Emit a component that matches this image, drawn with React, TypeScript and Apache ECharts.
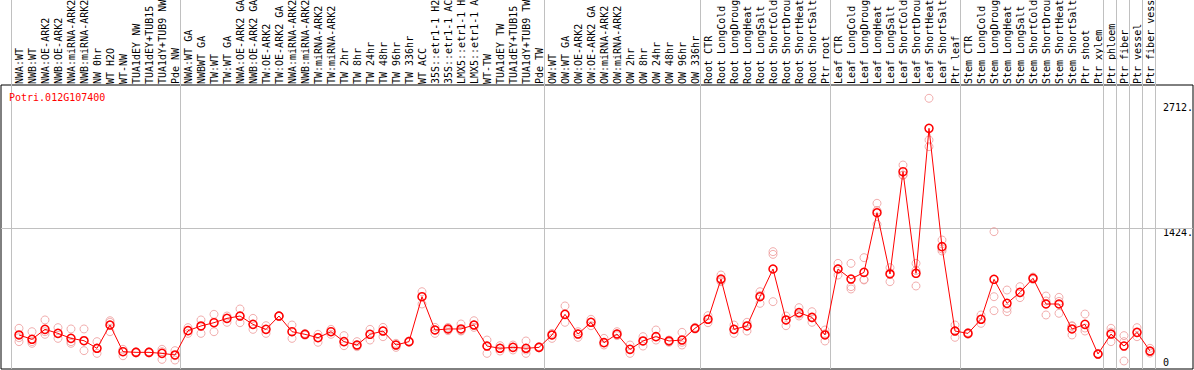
import React, { useEffect, useRef } from "react";
import * as echarts from "echarts";

// ---------------- data ----------------
const chartTitle = "Potri.012G107400";

const categories = [
  "NWA:WT", "NWB:WT", "NWA:OE-ARK2", "NWB:OE-ARK2", "NWA:miRNA-ARK2", "NWB:miRNA-ARK2",
  "NW 0hr", "WT H2O", "WT-NW", "TUA1dEY NW", "TUA1dEY+TUB15", "TUA1dY+TUB9 NW", "Pde NW",
  "NWA:WT GA", "NWBWT GA", "TW:WT", "TW:WT GA", "NWA:OE-ARK2 GA", "NWB:OE-ARK2 GA",
  "TW:OE-ARK2", "TW:OE-ARK2 GA", "NWA:miRNA-ARK2", "NWB:miRNA-ARK2", "TW:miRNA-ARK2",
  "TW:miRNA-ARK2 GA", "TW 2hr", "TW 8hr", "TW 24hr", "TW 48hr", "TW 96hr", "TW 336hr",
  "WT ACC", "35S::etr1-1 H2O", "35S::etr1-1 ACC", "LMX5::etr1-1 H2O", "LMX5::etr1-1 ACC",
  "WT-TW", "TUA1dEY TW", "TUA1dEY+TUB15", "TUA1dY+TUB9 TW", "Pde TW",
  "OW:WT", "OW:WT GA", "OW:OE-ARK2", "OW:OE-ARK2 GA", "OW:miRNA-ARK2", "OW:miRNA-ARK2 GA",
  "OW 2hr", "OW 8hr", "OW 24hr", "OW 48hr", "OW 96hr", "OW 336hr",
  "Root CTR", "Root LongCold", "Root LongDrought", "Root LongHeat", "Root LongSalt",
  "Root ShortCold", "Root ShortDrought", "Root ShortHeat", "Root ShortSalt", "Ptr root",
  "Leaf CTR", "Leaf LongCold", "Leaf LongDrought", "Leaf LongHeat", "Leaf LongSalt",
  "Leaf ShortCold", "Leaf ShortDrought", "Leaf ShortHeat", "Leaf ShortSalt", "Ptr leaf",
  "Stem CTR", "Stem LongCold", "Stem LongDrought", "Stem LongHeat", "Stem LongSalt",
  "Stem ShortCold", "Stem ShortDrought", "Stem ShortHeat", "Stem ShortSalt", "Ptr shoot",
  "Ptr xylem", "Ptr phloem", "Ptr fiber", "Ptr vessel", "Ptr fiber vessel",
];

const meanValues = [
  288, 242, 348, 305, 252, 227, 146, 394, 110, 103, 103, 92, 75,
  334, 384, 419, 465, 490, 401, 348, 490, 323, 295, 259, 323, 217, 181, 295, 330, 181, 217,
  696, 341, 352, 352, 394, 170, 146, 156, 146, 156,
  288, 508, 298, 423, 206, 298, 135, 224, 270, 224, 234, 359,
  455, 884, 348, 384, 696, 991, 448, 526, 476, 288,
  991, 884, 955, 1591, 938, 2028, 945, 2490, 1229, 330,
  305, 455, 881, 625, 742, 892, 618, 618, 352, 401,
  85, 298, 170, 316, 117,
];

const replicate1 = [
  359, 323, 448, 366, 352, 352, 217, 440, 135, 110, 110, 135, 121,
  366, 448, 508, 490, 565, 465, 387, 495, 394, 305, 295, 348, 281, 217, 348, 369, 199, 224,
  749, 369, 369, 405, 440, 234, 174, 181, 224, 165,
  305, 597, 323, 455, 252, 323, 181, 270, 341, 234, 316, 370,
  494, 927, 394, 423, 749, 1176, 490, 579, 536, 341,
  1051, 1051, 1112, 1691, 1005, 2099, 1051, 2810, 1300, 394,
  315, 501, 1389, 767, 803, 905, 703, 689, 387, 511,
  92, 359, 281, 366, 146,
];

const replicate2 = [
  259, 199, 295, 252, 199, 121, 92, 323, 67, 96, 96, 28, 21,
  305, 305, 323, 423, 419, 348, 305, 485, 252, 285, 210, 295, 174, 163, 234, 270, 156, 210,
  618, 305, 334, 334, 369, 92, 117, 128, 92, 150,
  252, 423, 263, 387, 181, 281, 92, 170, 234, 210, 181, 350,
  419, 856, 305, 330, 625, 1147, 387, 490, 423, 224,
  927, 803, 874, 1467, 856, 1993, 810, 2366, 1183, 263,
  295, 412, 696, 536, 686, 880, 501, 519, 288, 330,
  80, 217, 11, 270, 110,
];

const replicate3 = [
  217, 217, 323, 305, 217, 227, 146, 423, 110, 103, 103, 110, 67,
  334, 377, 419, 465, 490, 401, 348, 490, 323, 295, 259, 323, 217, 181, 295, 330, 181, 217,
  696, 341, 352, 330, 394, 170, 146, 156, 128, 156,
  288, 508, 298, 423, 206, 298, 135, 224, 270, 224, 210, 359,
  455, 870, 348, 384, 710, 643, 448, 510, 470, 300,
  995, 778, 880, 1615, 950, 1990, 975, 2295, 1205, 333,
  305, 452, 547, 572, 737, 892, 650, 646, 381, 362,
  85, 318, 217, 312, 95,
];

// index of the first category of each group (a separator precedes each)
const groupStarts = [0, 13, 41, 53, 63, 73, 84, 85, 86, 87, 88];

const yTickValues = [2712, 1424, 0];
const yTickLabels = ["2712.", "1424.", "0"];
const referenceLineValue = 1424;

// ---------------- layout ----------------
const W = 1194;
const H = 370;
const GRID_LEFT = 1;
const GRID_WIDTH = 1192;
const GRID_TOP = 85;
const GRID_HEIGHT = 284;
const STEP = 13;
const FIRST_X = 19;
const X_MIN = -(FIRST_X - GRID_LEFT) / STEP;
const X_MAX = X_MIN + GRID_WIDTH / STEP;
const ZERO_Y = 362;
const PX_PER_UNIT = 0.093842;
const Y_MAX = (ZERO_Y - GRID_TOP) / PX_PER_UNIT;
const Y_MIN = Y_MAX - GRID_HEIGHT / PX_PER_UNIT;
const SEP_OFFSET = -8 / STEP;
const LABEL_MAX_CHARS = 14;
const Y_LABEL_X = 1163;
const MONO = "'DejaVu Sans Mono', 'Liberation Mono', monospace";

const toPoints = (arr: number[]) => arr.map((v, i) => [i, v]);

export default function App() {
  const ref = useRef<HTMLDivElement>(null);

  useEffect(() => {
    if (!ref.current) return;
    const chart = echarts.init(ref.current, null, { renderer: "svg" });

    const repStyle = {
      color: "rgba(0,0,0,0)",
      borderColor: "#ee9a9a",
      borderWidth: 1,
    };

    chart.setOption({
      animation: false,
      backgroundColor: "#ffffff",
      title: {
        text: chartTitle,
        left: 9,
        top: 92,
        padding: 0,
        textStyle: { color: "#ff0000", fontFamily: MONO, fontSize: 10, fontWeight: "normal" },
      },
      grid: [
        {
          left: GRID_LEFT,
          top: GRID_TOP,
          width: GRID_WIDTH,
          height: GRID_HEIGHT,
          show: true,
          borderColor: "#000000",
          borderWidth: 1,
          backgroundColor: "rgba(0,0,0,0)",
        },
        {
          left: FIRST_X - STEP / 2,
          top: GRID_TOP,
          width: categories.length * STEP,
          height: 1,
          show: false,
        },
      ],
      xAxis: [
        { type: "value", gridIndex: 0, min: X_MIN, max: X_MAX, show: false },
        {
          type: "category",
          gridIndex: 1,
          position: "top",
          data: categories,
          boundaryGap: true,
          axisLine: { show: false },
          axisTick: { show: false },
          splitLine: { show: false },
          axisLabel: {
            interval: 0,
            rotate: 90,
            margin: 2,
            color: "#000000",
            fontFamily: MONO,
            fontSize: 10,
            formatter: (s: string) => s.slice(0, LABEL_MAX_CHARS),
          },
        },
      ],
      yAxis: [
        { type: "value", gridIndex: 0, min: Y_MIN, max: Y_MAX, show: false },
        { type: "value", gridIndex: 1, show: false },
      ],
      series: [
        {
          type: "custom",
          name: "separators",
          xAxisIndex: 0,
          yAxisIndex: 0,
          clip: false,
          silent: true,
          z: 1,
          data: groupStarts.map((s) => [s + SEP_OFFSET, 0]),
          renderItem: (_params: any, api: any) => {
            const x = Math.round(api.coord([api.value(0), 0])[0]) + 0.5;
            return {
              type: "line",
              shape: { x1: x, y1: 0, x2: x, y2: GRID_TOP + GRID_HEIGHT },
              style: { stroke: "#c0c0c0", lineWidth: 1 },
            };
          },
        },
        ...[replicate1, replicate2, replicate3].map((r, k) => ({
          type: "scatter",
          name: "rep" + (k + 1),
          xAxisIndex: 0,
          yAxisIndex: 0,
          data: toPoints(r),
          symbol: "circle",
          symbolSize: 8,
          itemStyle: repStyle,
          silent: true,
          z: 2,
        })),
        {
          type: "line",
          name: "mean",
          xAxisIndex: 0,
          yAxisIndex: 0,
          data: toPoints(meanValues),
          symbol: "circle",
          symbolSize: 8,
          showSymbol: true,
          showAllSymbol: true,
          lineStyle: { color: "#ff0000", width: 1 },
          itemStyle: { color: "rgba(0,0,0,0)", borderColor: "#ff0000", borderWidth: 1.5 },
          silent: true,
          z: 3,
          markLine: {
            silent: true,
            symbol: "none",
            z: 1,
            label: { show: false },
            lineStyle: { color: "#c0c0c0", type: "solid", width: 1 },
            data: [{ yAxis: referenceLineValue }],
          },
        },
      ],
    });

    const graphics = yTickValues.map((v, k) => {
      const y = chart.convertToPixel({ yAxisIndex: 0 }, v) as number;
      return {
        type: "text",
        x: Y_LABEL_X,
        y: y + (v === referenceLineValue ? 4 : 0),
        silent: true,
        style: {
          text: yTickLabels[k],
          fill: "#000000",
          fontFamily: MONO,
          fontSize: 10,
          align: "left",
          verticalAlign: "middle",
        },
      };
    });
    chart.setOption({ graphic: graphics });

    return () => chart.dispose();
  }, []);

  return (
    <div
      ref={ref}
      style={{ position: "fixed", left: 0, top: 0, width: W, height: H, background: "#fff" }}
    />
  );
}
